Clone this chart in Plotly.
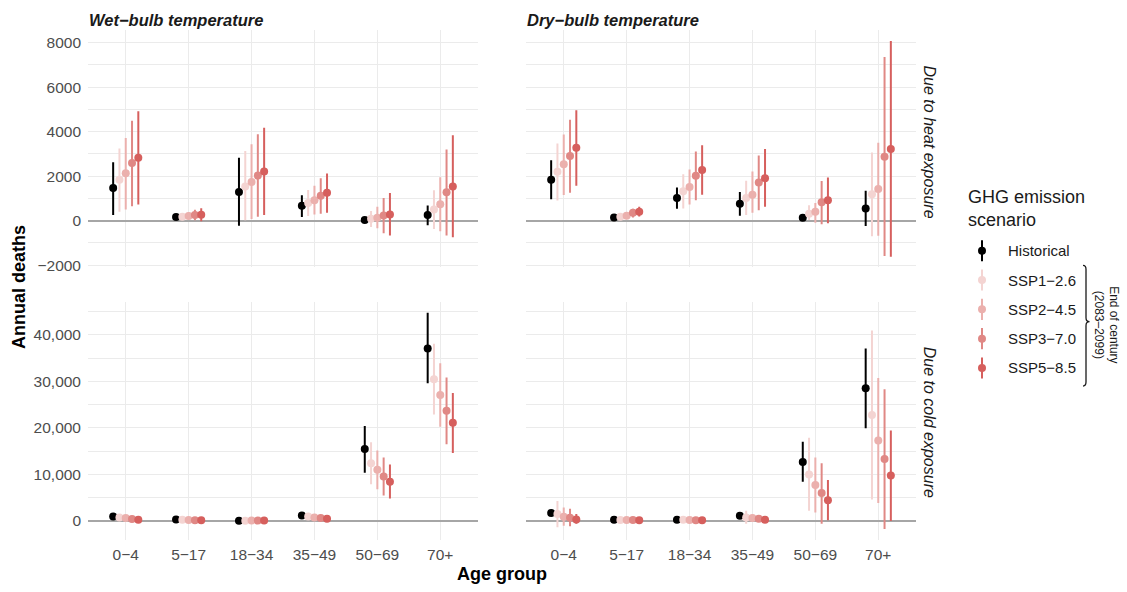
import plotly.graph_objects as go

# ---------------- data ----------------
ages = ["0−4", "5−17", "18−34", "35−49", "50−69", "70+"]
scenarios = ["Historical", "SSP1−2.6", "SSP2−4.5", "SSP3−7.0", "SSP5−8.5"]
colors = ["#000000", "#F4D4D2", "#EBB0AD", "#E08885", "#D65F5D"]

# rows = scenarios (Historical, SSP1-2.6, SSP2-4.5, SSP3-7.0, SSP5-8.5); cols = age groups
wet_heat_mid = [
    [1467, 163, 1289, 667, 30, 252],
    [1836, 178, 1541, 800, 89, 504],
    [2133, 207, 1733, 919, 133, 741],
    [2593, 252, 2030, 1126, 237, 1274],
    [2830, 267, 2207, 1259, 281, 1541],
]
wet_heat_lo = [
    [252, 100, -222, 163, -20, -207],
    [400, 80, 15, 207, -281, -370],
    [504, 60, 74, 281, -341, -474],
    [652, 15, 178, 311, -563, -667],
    [726, -30, 252, 356, -667, -741],
]
wet_heat_hi = [
    [2622, 230, 2830, 1141, 80, 681],
    [3244, 300, 3126, 1378, 430, 1363],
    [3718, 380, 3437, 1570, 622, 1956],
    [4489, 489, 3881, 1911, 1022, 3200],
    [4919, 563, 4178, 2119, 1244, 3837],
]

dry_heat_mid = [
    [1836, 148, 1022, 756, 133, 548],
    [2193, 178, 1319, 1022, 311, 1185],
    [2533, 222, 1511, 1170, 400, 1422],
    [2904, 356, 2015, 1719, 830, 2874],
    [3274, 400, 2281, 1911, 919, 3215],
]
dry_heat_lo = [
    [963, 100, 533, 222, 80, -237],
    [904, 100, 548, 252, 30, -696],
    [1156, 120, 726, 356, -89, -681],
    [1259, 148, 919, 474, -163, -1585],
    [1570, 193, 1170, 622, -119, -1615],
]
dry_heat_hi = [
    [2711, 200, 1496, 1289, 190, 1348],
    [3467, 260, 2089, 1793, 696, 3067],
    [3867, 330, 2296, 2207, 800, 3496],
    [4533, 533, 3111, 2933, 1778, 7348],
    [4963, 622, 3393, 3215, 1941, 8074],
]

wet_cold_mid = [
    [980, 340, 30, 1190, 15450, 37090],
    [770, 250, 60, 950, 12400, 30490],
    [640, 220, 80, 770, 10990, 27090],
    [430, 180, 90, 640, 9570, 23680],
    [280, 150, 100, 500, 8430, 21130],
]
wet_cold_lo = [
    [700, 150, -100, 900, 10350, 29580],
    [550, 100, -80, 700, 7870, 22900],
    [400, 80, -50, 550, 6810, 20280],
    [200, 50, -40, 420, 5450, 16520],
    [50, 20, -30, 280, 4810, 14600],
]
wet_cold_hi = [
    [1250, 550, 200, 1450, 20430, 44750],
    [1000, 400, 200, 1200, 16940, 38090],
    [900, 360, 220, 1000, 15170, 33900],
    [660, 320, 230, 860, 13620, 30850],
    [520, 280, 240, 720, 12130, 27510],
]

dry_cold_mid = [
    [1700, 280, 280, 1130, 12690, 28510],
    [1490, 210, 280, 770, 10000, 22770],
    [920, 210, 210, 640, 7720, 17300],
    [700, 210, 140, 500, 6020, 13320],
    [340, 140, 140, 280, 4470, 9790],
]
dry_cold_lo = [
    [1400, 100, 100, 850, 8430, 19920],
    [-1360, 50, 100, -570, 2190, 4600],
    [-1000, 50, 50, -100, 1830, 3890],
    [-1150, 50, 0, -150, -570, -1700],
    [-570, 20, 0, -50, 130, 0],
]
dry_cold_hi = [
    [2000, 460, 460, 1400, 17020, 37090],
    [4320, 380, 460, 2190, 17870, 40920],
    [2900, 380, 380, 1400, 13620, 30710],
    [2620, 380, 300, 1200, 12400, 28300],
    [1490, 280, 300, 700, 8790, 19430],
]

heat_ticks = [-2000, 0, 2000, 4000, 6000, 8000]
cold_ticks = [0, 10000, 20000, 30000, 40000]

# ---------------- layout helpers ----------------
W, H = 1127, 592
FONT = "Liberation Sans, Arial, Helvetica, sans-serif"
dodge = [-0.2, -0.1, 0.0, 0.1, 0.2]


def fx(p):
    return p / W


def fy(p):
    return 1 - p / H


fig = go.Figure()

panels = [
    (wet_heat_mid, wet_heat_lo, wet_heat_hi, "x", "y"),
    (dry_heat_mid, dry_heat_lo, dry_heat_hi, "x2", "y2"),
    (wet_cold_mid, wet_cold_lo, wet_cold_hi, "x3", "y3"),
    (dry_cold_mid, dry_cold_lo, dry_cold_hi, "x4", "y4"),
]

for mid, lo, hi, xa, ya in panels:
    for s in range(len(scenarios)):
        xs = [i + dodge[s] for i in range(len(ages))]
        fig.add_trace(go.Scatter(
            x=xs, y=mid[s], xaxis=xa, yaxis=ya, mode="markers",
            marker=dict(size=8, color=colors[s]),
            error_y=dict(type="data", symmetric=False,
                         array=[h - m for h, m in zip(hi[s], mid[s])],
                         arrayminus=[m - l for m, l in zip(mid[s], lo[s])],
                         color=colors[s], thickness=2, width=0),
            showlegend=False, hoverinfo="skip", name=scenarios[s],
        ))

# custom legend (point + range keys)
for s in range(len(scenarios)):
    fig.add_trace(go.Scatter(
        x=[0.5], y=[s], xaxis="x5", yaxis="y5", mode="markers",
        marker=dict(size=8, color=colors[s]),
        error_y=dict(type="constant", value=0.36, color=colors[s], thickness=2, width=0),
        showlegend=False, hoverinfo="skip", cliponaxis=False,
    ))

grid = "#EBEBEB"
left_dom = [fx(88), fx(478)]
right_dom = [fx(526), fx(916)]
top_dom = [fy(270.2), fy(30.4)]
bot_dom = [fy(545.2), fy(305.1)]

TICKFONT = dict(family=FONT, size=15.5, color="#4D4D4D")
xcommon = dict(range=[-0.6, 5.6], tickmode="array", tickvals=list(range(len(ages))),
               ticktext=ages, showgrid=True, gridcolor=grid, gridwidth=1.3,
               zeroline=False, showline=False, ticks="", tickfont=TICKFONT)
heat_y = dict(range=[-2100, 8560], tickmode="array", tickvals=heat_ticks,
              tickformat="d", showgrid=True, gridcolor=grid, gridwidth=1.3,
              minor=dict(tickmode="linear", tick0=0, dtick=1000, showgrid=True,
                         gridcolor=grid, gridwidth=0.8),
              zeroline=True, zerolinecolor="#A6A6A6", zerolinewidth=1.6,
              showline=False, ticks="", ticklabelstandoff=6, tickfont=TICKFONT)
cold_y = dict(range=[-4020, 47070], tickmode="array", tickvals=cold_ticks,
              tickformat=",d", showgrid=True, gridcolor=grid, gridwidth=1.3,
              minor=dict(tickmode="linear", tick0=0, dtick=5000, showgrid=True,
                         gridcolor=grid, gridwidth=0.8),
              zeroline=True, zerolinecolor="#A6A6A6", zerolinewidth=1.6,
              showline=False, ticks="", ticklabelstandoff=6, tickfont=TICKFONT)

fig.update_layout(
    width=W, height=H, autosize=False,
    margin=dict(l=0, r=0, t=0, b=0),
    paper_bgcolor="white", plot_bgcolor="white",
    font=dict(family=FONT, color="#000000"),
    xaxis=dict(xcommon, domain=left_dom, anchor="y", showticklabels=False),
    xaxis2=dict(xcommon, domain=right_dom, anchor="y2", showticklabels=False),
    xaxis3=dict(xcommon, domain=left_dom, anchor="y3", ticklabelstandoff=4),
    xaxis4=dict(xcommon, domain=right_dom, anchor="y4", ticklabelstandoff=4),
    yaxis=dict(heat_y, domain=top_dom, anchor="x"),
    yaxis2=dict(heat_y, domain=top_dom, anchor="x2", showticklabels=False),
    yaxis3=dict(cold_y, domain=bot_dom, anchor="x3"),
    yaxis4=dict(cold_y, domain=bot_dom, anchor="x4", showticklabels=False),
    xaxis5=dict(domain=[fx(960), fx(1004)], range=[0, 1], visible=False, anchor="y5"),
    yaxis5=dict(domain=[fy(386.5), fy(238.5)], range=[4.5, -0.5], visible=False, anchor="x5"),
)

ann = []
# facet strip titles
ann.append(dict(text="<b><i>Wet−bulb temperature</i></b>", x=fx(87), y=fy(20), xref="paper", yref="paper",
                xanchor="left", yanchor="middle", showarrow=False,
                font=dict(family=FONT, size=16.5, color="#1A1A1A")))
ann.append(dict(text="<b><i>Dry−bulb temperature</i></b>", x=fx(525), y=fy(20), xref="paper", yref="paper",
                xanchor="left", yanchor="middle", showarrow=False,
                font=dict(family=FONT, size=16.5, color="#1A1A1A")))
ann.append(dict(text="<i>Due to heat exposure</i>", x=fx(929), y=fy(143), xref="paper", yref="paper",
                xanchor="center", yanchor="middle", textangle=90, showarrow=False,
                font=dict(family=FONT, size=16, color="#1A1A1A")))
ann.append(dict(text="<i>Due to cold exposure</i>", x=fx(929), y=fy(426), xref="paper", yref="paper",
                xanchor="center", yanchor="middle", textangle=90, showarrow=False,
                font=dict(family=FONT, size=16, color="#1A1A1A")))
# axis titles
ann.append(dict(text="<b>Annual deaths</b>", x=fx(19), y=fy(290), xref="paper", yref="paper",
                xanchor="center", yanchor="middle", textangle=-90, showarrow=False,
                font=dict(family=FONT, size=18, color="#000000")))
ann.append(dict(text="<b>Age group</b>", x=fx(502), y=fy(580), xref="paper", yref="paper",
                xanchor="center", yanchor="middle", showarrow=False,
                font=dict(family=FONT, size=18, color="#000000")))
# legend title and labels
ann.append(dict(text="GHG emission<br>scenario", x=fx(966), y=fy(211), xref="paper", yref="paper",
                xanchor="left", yanchor="middle", align="left", showarrow=False,
                font=dict(family=FONT, size=18, color="#1A1A1A")))
for s, name in enumerate(scenarios):
    ann.append(dict(text=name, x=0.5, y=s, xref="x5", yref="y5", xshift=24,
                    xanchor="left", yanchor="middle", showarrow=False,
                    font=dict(family=FONT, size=15, color="#1A1A1A")))
ann.append(dict(text="End of century<br>(2083–2099)", x=fx(1106.5), y=fy(328), xref="paper", yref="paper",
                xanchor="center", yanchor="middle", textangle=90, showarrow=False,
                font=dict(family=FONT, size=12, color="#1A1A1A")))
fig.update_layout(annotations=ann)

# curly brace "}" next to the SSP legend entries
pts = [(1083, 268), (1086, 268), (1086, 272), (1086, 321), (1086, 325), (1089.5, 325),
       (1086, 325), (1086, 329), (1086, 386), (1086, 390), (1083, 390)]
P = [(fx(a), fy(b)) for a, b in pts]
path = (f"M {P[0][0]},{P[0][1]} Q {P[1][0]},{P[1][1]} {P[2][0]},{P[2][1]} "
        f"L {P[3][0]},{P[3][1]} Q {P[4][0]},{P[4][1]} {P[5][0]},{P[5][1]} "
        f"Q {P[6][0]},{P[6][1]} {P[7][0]},{P[7][1]} "
        f"L {P[8][0]},{P[8][1]} Q {P[9][0]},{P[9][1]} {P[10][0]},{P[10][1]}")
fig.add_shape(type="path", path=path, xref="paper", yref="paper",
              line=dict(color="#1A1A1A", width=1.3))

fig.write_html("out.html")
